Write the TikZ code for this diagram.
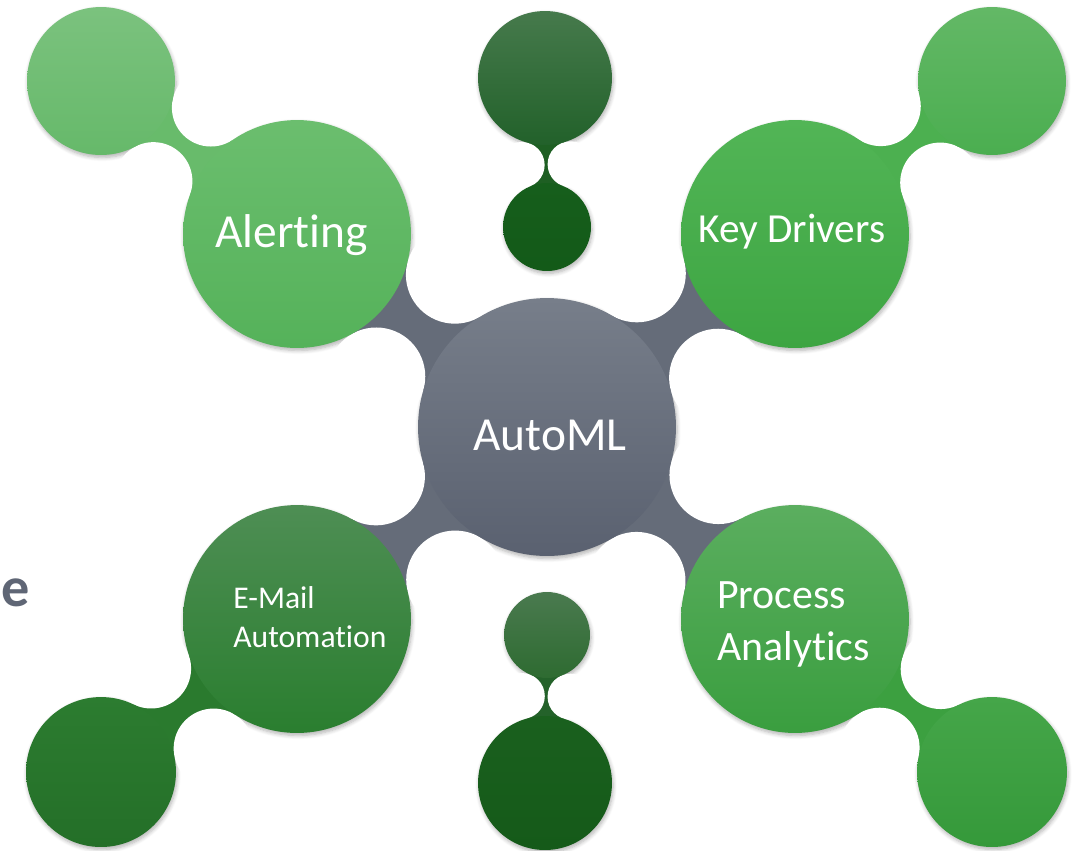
\documentclass[tikz,border=0pt]{standalone}
\usepackage{fontspec}
\setmainfont[Ligatures=NoCommon]{Carlito}
\usetikzlibrary{calc,intersections,shadows.blur}
\pgfdeclarelayer{shadowlayer}
\pgfdeclarelayer{necklayer}
\pgfdeclarelayer{bitelayer}
\pgfsetlayers{shadowlayer,necklayer,bitelayer,main}
\definecolor{tlA}{HTML}{7BC27E}\definecolor{tlB}{HTML}{66B96A}
\definecolor{alA}{HTML}{6BBE6E}\definecolor{alB}{HTML}{55B25A}
\definecolor{trA}{HTML}{63B866}\definecolor{trB}{HTML}{4BAE50}
\definecolor{kdA}{HTML}{52B556}\definecolor{kdB}{HTML}{3DA542}
\definecolor{cA}{HTML}{777E8A}\definecolor{cB}{HTML}{5A6170}
\definecolor{emA}{HTML}{4E8E54}\definecolor{emB}{HTML}{2A7E2F}
\definecolor{blA}{HTML}{2C7C30}\definecolor{blB}{HTML}{246F28}
\definecolor{paA}{HTML}{5BAE5F}\definecolor{paB}{HTML}{3A9E3F}
\definecolor{brA}{HTML}{45A649}\definecolor{brB}{HTML}{35993A}
\definecolor{tmA}{HTML}{467A4C}\definecolor{tmB}{HTML}{22612A}
\definecolor{tsA}{HTML}{165E1C}\definecolor{tsB}{HTML}{135A18}
\definecolor{bsA}{HTML}{4A7A4F}\definecolor{bsB}{HTML}{2E6B31}
\definecolor{bbA}{HTML}{1A601E}\definecolor{bbB}{HTML}{155A19}
\definecolor{neckgray}{HTML}{656C79}
\definecolor{nTL}{HTML}{68BB6B}
\definecolor{nTR}{HTML}{4CB050}
\definecolor{nBL}{HTML}{2A7A2E}
\definecolor{nBR}{HTML}{3CA040}
\definecolor{nTM}{HTML}{1E5F23}
\definecolor{nBM}{HTML}{24622A}
\definecolor{egray}{HTML}{5F6675}
% neck between node #1 (radius #3) and node #2 (radius #4), bite radius #5, colour #6, name #7
\newcommand{\mkneck}[7]{%
  \path[name path=npA] (#1.center) circle[radius=#3+#5];
  \path[name path=npB] (#2.center) circle[radius=#4+#5];
  \path[name intersections={of=npA and npB, name=#7}];
  \fill[#6] ($(#1.center)!{#3/(#3+#5)}!(#7-1)$) -- ($(#2.center)!{#4/(#4+#5)}!(#7-1)$)
     -- ($(#2.center)!{#4/(#4+#5)}!(#7-2)$) -- ($(#1.center)!{#3/(#3+#5)}!(#7-2)$) -- cycle;
}
\newcommand{\mkbite}[2]{%
  \fill[white] (#1-1) circle[radius=#2];
  \fill[white] (#1-2) circle[radius=#2];
}
\newcommand{\mkshadow}[2]{%
  \path[softshadow] (#1.center) circle[radius=#2];
}
\tikzset{
  bub/.style={circle, draw=none, inner sep=0pt, minimum size=#1*0.04cm},
  softshadow/.style={blur shadow={shadow xshift=0.6pt, shadow yshift=-1.4pt,
      shadow blur radius=2.2pt, shadow opacity=30, shadow blur steps=6}},
  lbl/.style={text=white, inner sep=0pt},
}
\begin{document}
\begin{tikzpicture}[x=0.02cm, y=-0.02cm]
\useasboundingbox (0,0) rectangle (1081,850);
% circles
\node[bub=74, top color=tlA, bottom color=tlB] (tl) at (101,81) {};
\node[bub=114, top color=alA, bottom color=alB] (al) at (297,234) {};
\node[bub=74, top color=trA, bottom color=trB] (tr) at (992,81) {};
\node[bub=114, top color=kdA, bottom color=kdB] (kd) at (795,234) {};
\node[bub=129, top color=cA, bottom color=cB] (c) at (547,427) {};
\node[bub=114, top color=emA, bottom color=emB] (em) at (297,619) {};
\node[bub=75, top color=blA, bottom color=blB] (bl) at (101,772) {};
\node[bub=114, top color=paA, bottom color=paB] (pa) at (795,619) {};
\node[bub=75, top color=brA, bottom color=brB] (br) at (992,772) {};
\node[bub=67, top color=tmA, bottom color=tmB] (tm) at (545,78) {};
\node[bub=44, top color=tsA, bottom color=tsB] (ts) at (547,227) {};
\node[bub=43, top color=bsA, bottom color=bsB] (bs) at (547,635) {};
\node[bub=67, top color=bbA, bottom color=bbB] (bb) at (545,783) {};
% shadows under everything
\begin{pgfonlayer}{shadowlayer}
\mkshadow{tl}{74}\mkshadow{al}{114}\mkshadow{tr}{74}\mkshadow{kd}{114}
\mkshadow{c}{129}\mkshadow{em}{114}\mkshadow{bl}{75}\mkshadow{pa}{114}
\mkshadow{br}{75}\mkshadow{tm}{67}\mkshadow{ts}{44}\mkshadow{bs}{43}\mkshadow{bb}{67}
\end{pgfonlayer}
% necks
\begin{pgfonlayer}{necklayer}
\mkneck{c}{al}{129}{114}{49}{neckgray}{bA}
\mkneck{c}{kd}{129}{114}{49}{neckgray}{bB}
\mkneck{c}{em}{129}{114}{49}{neckgray}{bC}
\mkneck{c}{pa}{129}{114}{49}{neckgray}{bD}
\mkneck{tl}{al}{74}{114}{39}{nTL}{bE}
\mkneck{tr}{kd}{74}{114}{40}{nTR}{bF}
\mkneck{bl}{em}{75}{114}{40}{nBL}{bG}
\mkneck{br}{pa}{75}{114}{40}{nBR}{bH}
\mkneck{tm}{ts}{67}{44}{23}{nTM}{bI}
\mkneck{bs}{bb}{43}{67}{23}{nBM}{bJ}
\end{pgfonlayer}
\begin{pgfonlayer}{bitelayer}
\mkbite{bA}{49}\mkbite{bB}{49}\mkbite{bC}{49}\mkbite{bD}{49}
\mkbite{bE}{39}\mkbite{bF}{40}\mkbite{bG}{40}\mkbite{bH}{40}
\mkbite{bI}{23}\mkbite{bJ}{23}
\end{pgfonlayer}
% labels
\node[lbl, anchor=base west, font=\fontsize{27}{32}\selectfont] (tAl) at (215,247) {Alerting};
\node[lbl, anchor=base west, font=\fontsize{23.5}{28}\selectfont] (tKd) at (698,242) {Key Drivers};
\node[lbl, anchor=base, font=\fontsize{27}{32}\selectfont] (tC) at (550,450) {AutoML};
\node[lbl, anchor=base west, font=\fontsize{18}{22}\selectfont] (tEm1) at (233,608) {E-Mail};
\node[lbl, anchor=base west, font=\fontsize{18}{22}\selectfont] (tEm2) at (233,647) {Automation};
\node[lbl, anchor=base west, font=\fontsize{23.8}{29}\selectfont] (tPa1) at (717,608) {Process};
\node[lbl, anchor=base west, font=\fontsize{23.8}{29}\selectfont] (tPa2) at (717,660) {Analytics};
\node[anchor=base west, inner sep=0pt, text=egray, font=\fontsize{32}{38}\selectfont\bfseries] (te) at (1,606) {e};
\end{tikzpicture}
\end{document}
